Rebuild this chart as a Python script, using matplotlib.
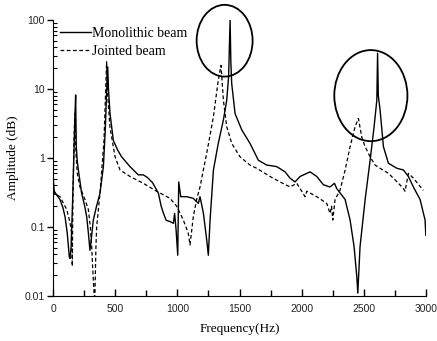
import matplotlib
matplotlib.use("Agg")
import matplotlib.pyplot as plt
from matplotlib.patches import Ellipse
from matplotlib.ticker import LogLocator, MultipleLocator, NullFormatter

# frequency response (Hz, amplitude)
mono_freq = [0, 10, 30, 56, 80, 97, 115, 131, 137, 145, 158, 170, 176, 182, 187,
             195, 204, 230, 255, 271, 285, 297, 305, 324, 350, 378, 405, 420, 432,
             440, 446, 458, 485, 520, 552, 619, 686, 726, 760, 800, 847, 870, 887,
             910, 941, 968, 978, 990, 1003, 1011, 1027, 1075, 1128, 1169, 1182,
             1209, 1236, 1249, 1263, 1290, 1329, 1370, 1397, 1412, 1424, 1430,
             1437, 1464, 1518, 1584, 1651, 1718, 1760, 1799, 1866, 1906, 1946,
             1987, 2067, 2121, 2174, 2228, 2263, 2282, 2349, 2389, 2421, 2443,
             2451, 2469, 2510, 2550, 2582, 2604, 2610, 2616, 2630, 2657, 2697,
             2765, 2818, 2858, 2898, 2952, 2992, 2998]
mono_amp = [0.55, 0.33, 0.29, 0.25, 0.19, 0.14, 0.08, 0.037, 0.035, 0.05, 0.25, 1.5,
            4, 8.2, 1.5, 0.9, 0.67, 0.31, 0.2, 0.14, 0.08, 0.046, 0.06, 0.126, 0.2,
            0.31, 0.75, 2.5, 10, 21, 10, 4.5, 1.8, 1.3, 1.04, 0.75, 0.57, 0.57,
            0.52, 0.44, 0.31, 0.2, 0.16, 0.125, 0.12, 0.113, 0.157, 0.09, 0.039,
            0.45, 0.275, 0.275, 0.26, 0.22, 0.275, 0.16, 0.065, 0.039, 0.126, 0.67,
            1.63, 3.55, 6.9, 15, 100, 25, 12, 4.4, 2.55, 1.63, 0.93, 0.79, 0.77,
            0.75, 0.63, 0.51, 0.45, 0.54, 0.63, 0.54, 0.41, 0.38, 0.43, 0.36, 0.25,
            0.126, 0.052, 0.019, 0.011, 0.052, 0.25, 0.93, 2.84, 6.9, 33, 8, 5,
            1.46, 0.84, 0.71, 0.67, 0.54, 0.38, 0.25, 0.126, 0.076]

joint_freq = [0, 20, 56, 110, 135, 150, 155, 160, 168, 174, 178, 184, 195, 217,
              257, 284, 300, 311, 322, 330, 335, 345, 351, 378, 410, 422, 431, 440,
              458, 499, 539, 619, 726, 820, 941, 995, 1048, 1088, 1102, 1128, 1155,
              1182, 1236, 1290, 1329, 1351, 1370, 1397, 1437, 1504, 1584, 1638,
              1745, 1826, 1906, 1960, 2000, 2027, 2041, 2121, 2201, 2228, 2240,
              2250, 2268, 2308, 2349, 2389, 2429, 2456, 2483, 2510, 2550, 2590,
              2630, 2697, 2778, 2818, 2831, 2858, 2898, 2978]
joint_amp = [0.33, 0.3, 0.275, 0.18, 0.12, 0.082, 0.027, 0.25, 1.5, 3.8, 4.5, 1.2,
             0.6, 0.38, 0.25, 0.18, 0.1, 0.052, 0.02, 0.011, 0.007, 0.05, 0.1, 0.31,
             1.8, 8, 24.8, 8, 2.8, 1.04, 0.67, 0.54, 0.43, 0.34, 0.26, 0.2, 0.126,
             0.081, 0.055, 0.14, 0.25, 0.38, 1.17, 3.97, 13.5, 22, 6.9, 2.84, 1.63,
             1.04, 0.79, 0.71, 0.54, 0.45, 0.38, 0.43, 0.33, 0.275, 0.33, 0.275,
             0.22, 0.157, 0.2, 0.126, 0.25, 0.34, 0.67, 1.46, 2.84, 3.75, 2.0, 1.46,
             1.04, 0.79, 0.71, 0.6, 0.43, 0.36, 0.33, 0.6, 0.51, 0.34]

serif = "Liberation Serif"
sans = "Liberation Sans"

fig = plt.figure(figsize=(4.37, 3.41), dpi=100)
ax = fig.add_axes([0.1213, 0.132, 0.8537, 0.8093])

ax.plot(mono_freq, mono_amp, color="black", linewidth=1.0, label="Monolithic beam")
ax.plot(joint_freq, joint_amp, color="black", linewidth=0.9, linestyle=(0, (3, 2)),
        label="Jointed beam")

ax.set_yscale("log")
ax.set_xlim(0, 3000)
ax.set_ylim(0.01, 100)
ax.xaxis.set_major_locator(MultipleLocator(500))
ax.xaxis.set_minor_locator(MultipleLocator(250))
ax.yaxis.set_minor_locator(LogLocator(base=10, subs=range(2, 10), numticks=20))
ax.yaxis.set_minor_formatter(NullFormatter())
ax.set_yticks([0.01, 0.1, 1, 10, 100])
ax.set_yticklabels(["0.01", "0.1", "1", "10", "100"])

ax.spines["top"].set_visible(False)
ax.spines["right"].set_visible(False)
ax.tick_params(axis="x", which="major", direction="in", length=5, width=1, pad=6)
ax.tick_params(axis="x", which="minor", direction="in", length=4, width=1)
ax.tick_params(axis="y", which="major", direction="out", length=4, width=1, pad=2)
ax.tick_params(axis="y", which="minor", direction="in", length=3, width=0.8)
for lab in ax.get_xticklabels() + ax.get_yticklabels():
    lab.set_fontfamily(sans)
    lab.set_fontsize(7.5)
    lab.set_color("#222222")

ax.set_xlabel("Frequency(Hz)", fontfamily=serif, fontsize=9.5, labelpad=6)
ax.set_ylabel("Amplitude (dB)", fontfamily=serif, fontsize=9.5, labelpad=4)

ax.legend(loc="upper left", bbox_to_anchor=(0.0, 1.0), frameon=False,
          prop={"family": serif, "size": 10}, handlelength=2.2,
          handletextpad=0.1, labelspacing=0.35, borderaxespad=0.1)

# circles marking the resonance peaks
for cx, cy, w, h in [(0.46, 0.925, 0.15, 0.26), (0.852, 0.726, 0.196, 0.33)]:
    ax.add_patch(Ellipse((cx, cy), w, h, transform=ax.transAxes, fill=False,
                         edgecolor="black", linewidth=1.3, clip_on=False))

fig.savefig("out.png", dpi=100)
